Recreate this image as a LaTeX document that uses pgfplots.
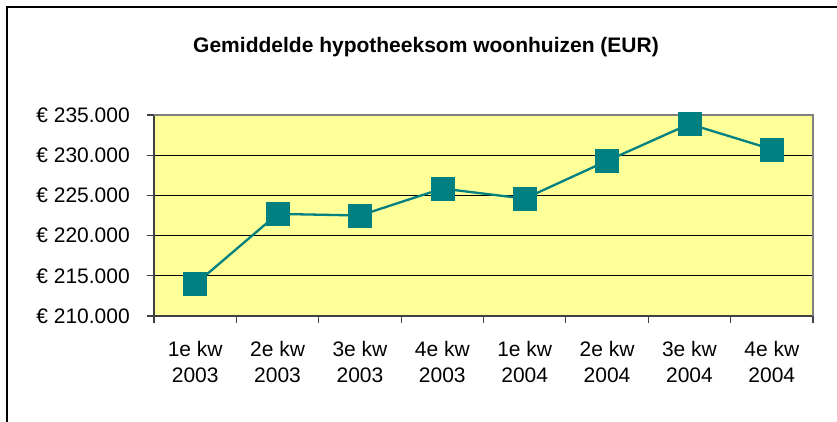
\documentclass[border=0pt]{standalone}
\usepackage{pgfplots}
\pgfplotsset{compat=1.18}
\usepackage{fontspec}
\setmainfont{Liberation Sans}
\definecolor{bgyellow}{HTML}{FFFF99}
\definecolor{tealline}{HTML}{008080}
\begin{document}
\begin{tikzpicture}[x=1pt,y=1pt]
\useasboundingbox (0,0) rectangle (837,421);
\fill[white] (0,0) rectangle (837,421);
\draw[line width=2pt] (7,-10) -- (7,414) -- (850,414);
\node[font=\fontsize{21}{25}\selectfont\bfseries, anchor=base] at (426,368) {Gemiddelde hypotheeksom woonhuizen (EUR)};
\begin{axis}[
  at={(154pt,105pt)}, anchor=south west,
  scale only axis, width=659pt, height=201pt,
  xmin=0, xmax=8, ymin=210000, ymax=235000,
  enlargelimits=false, clip=false,
  scaled y ticks=false,
  axis lines=left,
  axis line style={-, black!75, line width=1.5pt},
  axis background/.style={fill=bgyellow},
  ytick={210000,215000,220000,225000,230000,235000},
  yticklabels={€ 210.000,€ 215.000,€ 220.000,€ 225.000,€ 230.000,€ 235.000},
  xtick={0.5,1.5,2.5,3.5,4.5,5.5,6.5,7.5},
  xticklabels={{1e kw\\2003},{2e kw\\2003},{3e kw\\2003},{4e kw\\2003},{1e kw\\2004},{2e kw\\2004},{3e kw\\2004},{4e kw\\2004}},
  minor xtick={0,1,2,3,4,5,6,7,8},
  major x tick style={draw=none},
  tick align=outside,
  major tick length=7pt, minor tick length=7pt,
  tick style={black!75, line width=1.2pt},
  ymajorgrids,
  grid style={black, line width=0.9pt},
  tick label style={font=\fontsize{21}{26}\selectfont},
  yticklabel style={anchor=east, inner sep=0pt, xshift=-17pt},
  xticklabel style={align=center, anchor=north, inner sep=0pt, yshift=-18pt},
]
\draw[gray, line width=2pt] (rel axis cs:0,1) -- (rel axis cs:1,1) -- (rel axis cs:1,0);
\addplot[color=tealline, line width=2.3pt, mark=square*, mark size=11.5pt,
  mark options={fill=tealline, draw=tealline, line width=0.5pt}]
  coordinates {
  (0.5,213950) (1.5,222700) (2.5,222500) (3.5,225850)
  (4.5,224600) (5.5,229300) (6.5,233880) (7.5,230740)
  };
\end{axis}
\end{tikzpicture}
\end{document}
